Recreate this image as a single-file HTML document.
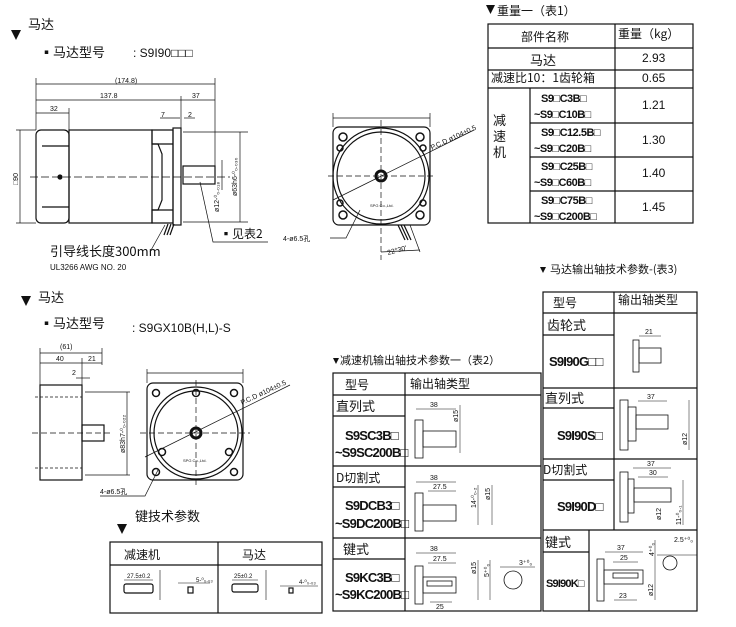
<!DOCTYPE html>
<html><head><meta charset="utf-8"><style>
html,body{margin:0;padding:0;background:#fff;}
svg{display:block;}
text{font-family:"Liberation Sans","Noto Sans CJK SC",sans-serif;fill:#111;}
.c{font-family:"Noto Sans CJK SC","WenQuanYi Zen Hei",sans-serif;}
.d{font-size:7px;}
.m{font-weight:bold;font-size:13px;letter-spacing:-0.8px;}
</style></head><body>
<svg width="736" height="627" viewBox="0 0 736 627" xmlns="http://www.w3.org/2000/svg" fill="none" stroke="#111" stroke-width="1.2">
<!-- ===== Top motor ===== -->
<polygon points="11,30 21,30 16,40" fill="#111" stroke="none"/>
<text class="c" x="28" y="29" font-size="13" stroke="none">马达</text>
<text class="c" x="40" y="57" font-size="13" stroke="none">▪马达型号</text>
<text x="133" y="57" font-size="12" stroke="none">: S9I90□□□</text>
<g stroke-width="0.7">
<line x1="36" y1="84" x2="215" y2="84"/><line x1="36" y1="100" x2="215" y2="100"/><line x1="36" y1="113" x2="69" y2="113"/>
<line x1="36" y1="78" x2="36" y2="130"/><line x1="215" y1="78" x2="215" y2="166"/><line x1="181" y1="96" x2="181" y2="128"/><line x1="69" y1="108" x2="69" y2="130"/>
<line x1="160" y1="118" x2="180" y2="118"/><line x1="184" y1="118" x2="195" y2="118"/>
<line x1="20" y1="130" x2="20" y2="223"/><line x1="16" y1="130" x2="36" y2="130"/><line x1="16" y1="223" x2="36" y2="223"/>
<line x1="222" y1="160" x2="222" y2="190"/><line x1="240" y1="132" x2="240" y2="222"/>
<line x1="183" y1="132" x2="248" y2="132"/><line x1="183" y1="222" x2="248" y2="222"/>
<line x1="30" y1="177" x2="230" y2="177" stroke-dasharray="8,3"/>
<polyline points="200,182 213,242 268,242"/>
<polyline points="150,252 165,225"/>
</g>
<text x="115" y="83" class="d" stroke="none">(174.8)</text>
<text x="100" y="98" class="d" stroke="none">137.8</text>
<text x="192" y="98" class="d" stroke="none">37</text>
<text x="50" y="111" class="d" stroke="none">32</text>
<text x="161" y="117" class="d" stroke="none">7</text>
<text x="188" y="117" class="d" stroke="none">2</text>
<text x="18" y="185" class="d" stroke="none" transform="rotate(-90 18 185)">□90</text>
<text x="219" y="212" class="d" stroke="none" transform="rotate(-90 219 212)">ø12-⁰₀.₀₁₈</text>
<text x="237" y="196" class="d" stroke="none" transform="rotate(-90 237 196)">ø63h6-⁰₀.₀₃₀</text>
<rect x="36" y="130" width="33" height="93" rx="5"/>
<line x1="42" y1="146" x2="69" y2="146"/><line x1="42" y1="207" x2="69" y2="207"/>
<circle cx="60" cy="177" r="2" fill="#111"/>
<rect x="69" y="130" width="83" height="93"/>
<path d="M152 130 H173 V223 H152 V210 H158 L162 200 V154 L158 144 H152 Z"/>
<line x1="152" y1="144" x2="173" y2="144"/><line x1="152" y1="210" x2="173" y2="210"/>
<rect x="173" y="128" width="8" height="97"/>
<rect x="183" y="166" width="32" height="18"/>
<line x1="168" y1="224" x2="164" y2="235"/><line x1="171" y1="224" x2="167" y2="235"/><line x1="174" y1="224" x2="170" y2="235"/>
<text class="c" x="50" y="256" font-size="13" stroke="none">引导线长度300mm</text>
<text x="50" y="270" font-size="8" stroke="none">UL3266 AWG NO. 20</text>
<text class="c" x="220" y="238" font-size="12" stroke="none">▪见表2</text>
<!-- front view -->
<g stroke-width="0.7">
<line x1="333" y1="118" x2="430" y2="118"/><line x1="333" y1="113" x2="333" y2="127"/><line x1="430" y1="113" x2="430" y2="127"/>
<line x1="328" y1="176" x2="436" y2="176" stroke-dasharray="6,3"/><line x1="381" y1="120" x2="381" y2="260" stroke-dasharray="6,3"/>
<line x1="333" y1="200" x2="474" y2="130"/>
<polyline points="330,238 346,238 360,210"/>
<line x1="410" y1="225" x2="420" y2="252"/><line x1="381" y1="252" x2="420" y2="250"/>
</g>
<rect x="333" y="127" width="97" height="98" rx="6"/>
<circle cx="381" cy="176" r="48"/><circle cx="381" cy="176" r="44"/>
<circle cx="381" cy="176" r="5" stroke-width="3"/>
<g stroke-width="1.5">
<circle cx="343" cy="137" r="4"/><circle cx="420" cy="137" r="4"/><circle cx="343" cy="215" r="4"/><circle cx="420" cy="215" r="4"/>
<circle cx="340" cy="148" r="3"/><circle cx="423" cy="148" r="3"/><circle cx="340" cy="203" r="3"/><circle cx="423" cy="203" r="3"/>
</g>
<line x1="398" y1="225" x2="405" y2="240"/><line x1="401" y1="225" x2="408" y2="240"/><line x1="404" y1="225" x2="411" y2="240"/>
<text x="370" y="207" font-size="4" stroke="none">SPG Co.,Ltd.</text>
<text x="432" y="150" class="d" stroke="none" transform="rotate(-25 432 150)">P.C.D ø104±0.5</text>
<text x="283" y="241" class="d" stroke="none">4-ø6.5孔</text>
<text x="388" y="255" class="d" stroke="none" transform="rotate(-15 388 255)">22°30'</text>
<!-- ===== Table 1 ===== -->
<polygon points="486,5 495,5 490.5,14" fill="#111" stroke="none"/>
<text class="c" x="497" y="15" font-size="12" stroke="none">重量一（表1）</text>
<rect x="488" y="24" width="205" height="199"/>
<line x1="615" y1="24" x2="615" y2="223"/>
<line x1="488" y1="48" x2="693" y2="48"/><line x1="488" y1="70" x2="693" y2="70"/><line x1="488" y1="88" x2="693" y2="88"/>
<line x1="530" y1="88" x2="530" y2="223"/>
<line x1="530" y1="123" x2="693" y2="123"/><line x1="530" y1="157" x2="693" y2="157"/><line x1="530" y1="191" x2="693" y2="191"/>
<text class="c" x="521" y="41" font-size="12" stroke="none">部件名称</text>
<text class="c" x="618" y="38" font-size="12" stroke="none">重量（kg）</text>
<text class="c" x="530" y="65" font-size="13" stroke="none">马达</text>
<text class="c" x="491" y="82" font-size="12" stroke="none">减速比10：1齿轮箱</text>
<text class="c" x="493" y="125" font-size="13" stroke="none">减</text>
<text class="c" x="493" y="141" font-size="13" stroke="none">速</text>
<text class="c" x="493" y="157" font-size="13" stroke="none">机</text>
<g font-size="11" font-weight="bold" letter-spacing="-0.5" stroke="none">
<text x="541" y="102">S9□C3B□</text><text x="534" y="118">~S9□C10B□</text>
<text x="541" y="136">S9□C12.5B□</text><text x="534" y="152">~S9□C20B□</text>
<text x="541" y="170">S9□C25B□</text><text x="534" y="186">~S9□C60B□</text>
<text x="541" y="204">S9□C75B□</text><text x="534" y="220">~S9□C200B□</text>
</g>
<g font-size="12" stroke="none">
<text x="642" y="62">2.93</text><text x="642" y="82">0.65</text>
<text x="642" y="109">1.21</text><text x="642" y="144">1.30</text><text x="642" y="177">1.40</text><text x="642" y="211">1.45</text>
</g>
<!-- ===== Second motor ===== -->
<polygon points="21,296 31,296 26,306" fill="#111" stroke="none"/>
<text class="c" x="38" y="302" font-size="13" stroke="none">马达</text>
<text class="c" x="40" y="328" font-size="13" stroke="none">▪马达型号</text>
<text x="132" y="332" font-size="12" stroke="none">: S9GX10B(H,L)-S</text>
<g stroke-width="0.7">
<line x1="40" y1="353" x2="102" y2="353"/><line x1="40" y1="363" x2="102" y2="363"/>
<line x1="40" y1="348" x2="40" y2="385"/><line x1="102" y1="348" x2="102" y2="365"/><line x1="82" y1="358" x2="82" y2="385"/>
<line x1="76" y1="378" x2="90" y2="378"/>
<line x1="127" y1="392" x2="127" y2="475"/><line x1="85" y1="392" x2="130" y2="392"/><line x1="85" y1="475" x2="130" y2="475"/>
<line x1="32" y1="433" x2="112" y2="433" stroke-dasharray="6,3"/>
<line x1="35" y1="397" x2="82" y2="397" stroke-dasharray="3,2"/><line x1="35" y1="468" x2="82" y2="468" stroke-dasharray="3,2"/>
</g>
<rect x="40" y="385" width="42" height="95"/>
<rect x="82" y="425" width="22" height="16"/>
<text x="60" y="349" class="d" stroke="none">(61)</text>
<text x="56" y="361" class="d" stroke="none">40</text><text x="88" y="361" class="d" stroke="none">21</text>
<text x="72" y="375" class="d" stroke="none">2</text>
<text x="125" y="453" class="d" stroke="none" transform="rotate(-90 125 453)">ø83h7-⁰₀.₀₂₂</text>
<g stroke-width="0.7">
<line x1="147" y1="373" x2="243" y2="373"/><line x1="147" y1="369" x2="147" y2="383"/><line x1="243" y1="369" x2="243" y2="383"/>
<line x1="140" y1="433" x2="250" y2="433" stroke-dasharray="6,3"/><line x1="196" y1="380" x2="196" y2="486" stroke-dasharray="6,3"/>
<line x1="145" y1="457" x2="290" y2="385"/>
<polyline points="100,496 145,496 158,470"/>
</g>
<rect x="147" y="383" width="96" height="97" rx="6"/>
<circle cx="196" cy="433" r="46"/><circle cx="196" cy="433" r="42"/>
<circle cx="196" cy="433" r="5" stroke-width="3"/>
<g stroke-width="1.5">
<circle cx="156" cy="393" r="3.5"/><circle cx="196" cy="393" r="3.5"/><circle cx="234" cy="393" r="3.5"/>
<circle cx="162" cy="452" r="3.5"/><circle cx="229" cy="452" r="3.5"/>
<circle cx="156" cy="472" r="3.5"/><circle cx="234" cy="472" r="3.5"/>
</g>
<text x="183" y="462" font-size="4" stroke="none">SPG Co.,Ltd.</text>
<text x="242" y="405" class="d" stroke="none" transform="rotate(-25 242 405)">P.C.D ø104±0.5</text>
<text x="100" y="494" class="d" stroke="none">4-ø6.5孔</text>
<!-- key table -->
<polygon points="117,524 127,524 122,534" fill="#111" stroke="none"/>
<text class="c" x="135" y="521" font-size="13" stroke="none">键技术参数</text>
<rect x="110" y="542" width="212" height="71"/>
<line x1="110" y1="565" x2="322" y2="565"/><line x1="218" y1="542" x2="218" y2="613"/>
<text class="c" x="124" y="559" font-size="12" stroke="none">减速机</text>
<text class="c" x="242" y="559" font-size="12" stroke="none">马达</text>
<rect x="124" y="584" width="29" height="9" rx="2"/><rect x="188" y="587" width="5" height="6"/>
<rect x="232" y="584" width="26" height="8" rx="2"/><rect x="289" y="588" width="4" height="5"/>
<g stroke-width="0.6"><line x1="124" y1="580" x2="153" y2="580"/><line x1="160" y1="570" x2="160" y2="600"/><line x1="178" y1="583" x2="210" y2="583"/><line x1="232" y1="580" x2="258" y2="580"/><line x1="266" y1="570" x2="266" y2="600"/><line x1="280" y1="586" x2="318" y2="586"/></g>
<text x="127" y="578" font-size="6" stroke="none">27.5±0.2</text>
<text x="196" y="582" font-size="6" stroke="none">5-⁰₀.₀₃</text>
<text x="234" y="578" font-size="6" stroke="none">25±0.2</text>
<text x="299" y="584" font-size="6" stroke="none">4-⁰₀.₀₃</text>
<!-- ===== Table 2 ===== -->
<polygon points="333,358 339,358 336,364" fill="#111" stroke="none"/>
<text class="c" x="340" y="364" font-size="11" stroke="none">减速机输出轴技术参数一（表2）</text>
<rect x="333" y="373" width="208" height="238"/>
<line x1="405" y1="373" x2="405" y2="611"/>
<line x1="333" y1="395" x2="541" y2="395"/>
<line x1="333" y1="416" x2="405" y2="416"/>
<line x1="333" y1="466" x2="541" y2="466"/>
<line x1="333" y1="487" x2="405" y2="487"/>
<line x1="333" y1="538" x2="541" y2="538"/>
<line x1="333" y1="559" x2="405" y2="559"/>
<text class="c" x="345" y="389" font-size="12" stroke="none">型号</text>
<text class="c" x="410" y="388" font-size="12" stroke="none">输出轴类型</text>
<text class="c" x="336" y="411" font-size="13" stroke="none">直列式</text>
<text class="c" x="336" y="482" font-size="12" stroke="none">D切割式</text>
<text class="c" x="343" y="554" font-size="13" stroke="none">键式</text>
<g class="m" stroke="none">
<text x="345" y="440">S9SC3B□</text><text x="335" y="457">~S9SC200B□</text>
<text x="345" y="510">S9DCB3□</text><text x="335" y="528">~S9DC200B□</text>
<text x="345" y="582">S9KC3B□</text><text x="335" y="599">~S9KC200B□</text>
</g>
<g stroke-width="0.8">
<rect x="415" y="420" width="8" height="38"/><rect x="423" y="431" width="33" height="16"/>
<rect x="415" y="493" width="8" height="38"/><rect x="423" y="505" width="33" height="16"/>
<rect x="415" y="566" width="8" height="38"/><rect x="423" y="577" width="33" height="16"/><rect x="427" y="581" width="25" height="5"/>
<circle cx="513" cy="580" r="9"/>
</g>
<g stroke-width="0.5">
<line x1="416" y1="409" x2="456" y2="409"/><line x1="460" y1="405" x2="460" y2="453"/>
<line x1="416" y1="482" x2="456" y2="482"/><line x1="428" y1="491" x2="456" y2="491"/><line x1="478" y1="485" x2="478" y2="525"/><line x1="492" y1="485" x2="492" y2="525"/>
<line x1="416" y1="553" x2="456" y2="553"/><line x1="428" y1="563" x2="456" y2="563"/><line x1="430" y1="602" x2="452" y2="602"/><line x1="478" y1="560" x2="478" y2="600"/><line x1="490" y1="560" x2="490" y2="600"/><line x1="500" y1="567" x2="535" y2="567"/>
</g>
<g class="d" stroke="none">
<text x="430" y="407">38</text><text x="458" y="422" transform="rotate(-90 458 422)">ø15</text>
<text x="430" y="480">38</text><text x="433" y="489">27.5</text><text x="476" y="508" transform="rotate(-90 476 508)">14-⁰₀.₂</text><text x="490" y="500" transform="rotate(-90 490 500)">ø15</text>
<text x="430" y="551">38</text><text x="433" y="561">27.5</text><text x="436" y="609">25</text><text x="476" y="574" transform="rotate(-90 476 574)">ø15</text><text x="489" y="577" transform="rotate(-90 489 577)">5⁺⁰₀</text><text x="519" y="565">3⁺⁰₀</text>
</g>
<!-- ===== Table 3 ===== -->
<polygon points="540,267 546,267 543,273" fill="#111" stroke="none"/>
<text class="c" x="550" y="273" font-size="11" stroke="none">马达输出轴技术参数-(表3)</text>
<rect x="543" y="292" width="154" height="319"/>
<line x1="614" y1="292" x2="614" y2="530"/>
<line x1="589" y1="530" x2="589" y2="611"/>
<line x1="543" y1="313" x2="697" y2="313"/>
<line x1="543" y1="335" x2="614" y2="335"/>
<line x1="543" y1="388" x2="697" y2="388"/>
<line x1="543" y1="408" x2="614" y2="408"/>
<line x1="543" y1="459" x2="697" y2="459"/>
<line x1="543" y1="480" x2="614" y2="480"/>
<line x1="543" y1="530" x2="697" y2="530"/>
<line x1="543" y1="552" x2="589" y2="552"/>
<text class="c" x="553" y="307" font-size="12" stroke="none">型号</text>
<text class="c" x="618" y="304" font-size="12" stroke="none">输出轴类型</text>
<text class="c" x="547" y="330" font-size="13" stroke="none">齿轮式</text>
<text class="c" x="545" y="403" font-size="13" stroke="none">直列式</text>
<text class="c" x="543" y="474" font-size="12" stroke="none">D切割式</text>
<text class="c" x="545" y="547" font-size="13" stroke="none">键式</text>
<g class="m" stroke="none">
<text x="549" y="366">S9I90G□□</text>
<text x="557" y="440">S9I90S□</text>
<text x="557" y="511">S9I90D□</text>
<text x="546" y="587" font-size="11">S9I90K□</text>
</g>
<g stroke-width="0.8">
<rect x="633" y="340" width="6" height="32"/><rect x="639" y="348" width="22" height="15"/>
<rect x="620" y="400" width="8" height="50"/><rect x="628" y="407" width="8" height="34"/><rect x="636" y="415" width="32" height="14"/>
<rect x="620" y="472" width="8" height="50"/><rect x="628" y="479" width="6" height="34"/><rect x="634" y="488" width="37" height="14"/>
<rect x="597" y="559" width="7" height="42"/><rect x="604" y="570" width="39" height="14"/><rect x="613" y="573" width="25" height="5"/>
<circle cx="670" cy="563" r="7"/>
</g>
<g stroke-width="0.5">
<line x1="639" y1="336" x2="661" y2="336"/><line x1="638" y1="401" x2="667" y2="401"/><line x1="689" y1="400" x2="689" y2="450"/>
<line x1="633" y1="468" x2="671" y2="468"/><line x1="638" y1="477" x2="668" y2="477"/><line x1="683" y1="480" x2="683" y2="525"/>
<line x1="605" y1="552" x2="643" y2="552"/><line x1="613" y1="562" x2="638" y2="562"/><line x1="614" y1="600" x2="637" y2="600"/><line x1="655" y1="540" x2="655" y2="600"/><line x1="657" y1="555" x2="697" y2="555"/>
</g>
<g class="d" stroke="none">
<text x="645" y="334">21</text><text x="647" y="399">37</text><text x="687" y="445" transform="rotate(-90 687 445)">ø12</text>
<text x="647" y="466">37</text><text x="649" y="475">30</text><text x="661" y="520" transform="rotate(-90 661 520)">ø12</text><text x="681" y="525" transform="rotate(-90 681 525)">11-⁰₀.₁</text>
<text x="617" y="550">37</text><text x="620" y="560">25</text><text x="619" y="598">23</text><text x="653" y="596" transform="rotate(-90 653 596)">ø12</text><text x="654" y="556" transform="rotate(-90 654 556)">4⁺⁰₀</text><text x="674" y="542">2.5⁺⁰₀</text>
</g>
</svg>
</body></html>
